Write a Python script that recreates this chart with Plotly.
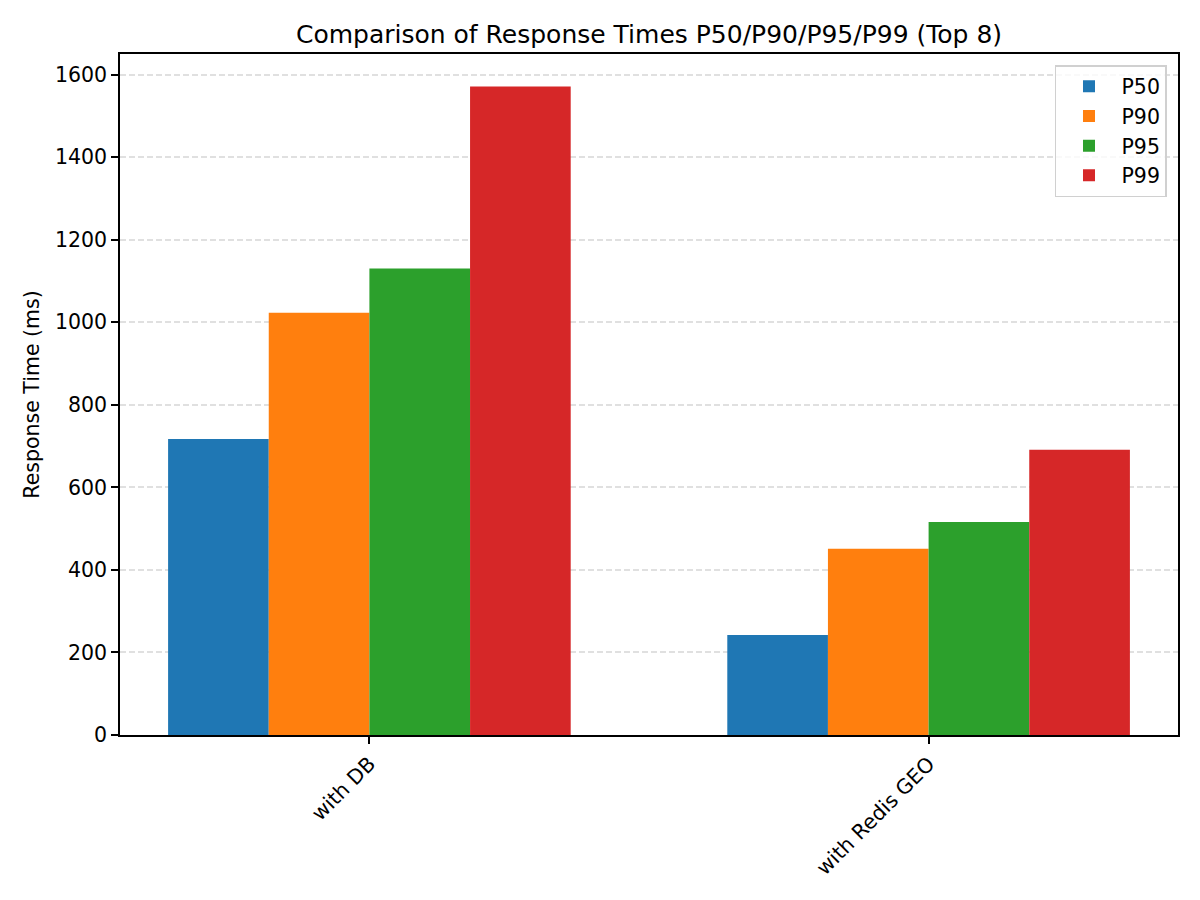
import plotly.graph_objects as go

categories = ["with DB", "with Redis GEO"]
series_names = ["P50", "P90", "P95", "P99"]
p50 = [717, 242]
p90 = [1023, 451]
p95 = [1130, 516]
p99 = [1571, 691]
colors = ["#1f77b4", "#ff7f0e", "#2ca02c", "#d62728"]

values = [p50, p90, p95, p99]

fig = go.Figure()
for name, vals, col in zip(series_names, values, colors):
    fig.add_trace(go.Bar(x=categories, y=vals, name=name, marker_color=col,
                         marker_line_width=0))

font_family = "DejaVu Sans"
W, H = 1184, 884
L, R, T, B = 112, 14, 46, 157
fig.update_layout(
    width=W, height=H,
    paper_bgcolor="white", plot_bgcolor="white",
    barmode="group", bargap=0.28, bargroupgap=0,
    margin=dict(l=L, r=R, t=T, b=B),
    font=dict(family=font_family, size=20.5, color="black"),
    title=dict(text="Comparison of Response Times P50/P90/P95/P99 (Top 8)",
               x=0.5, xref="paper", xanchor="center", y=1 - 26/H, yref="container",
               yanchor="middle",
               font=dict(size=25, family=font_family, color="black")),
    legend=dict(x=0.9896, y=0.9838, xanchor="right", yanchor="top",
                bgcolor="rgba(255,255,255,0.8)", bordercolor="#d0d0d0", borderwidth=1.5,
                font=dict(size=20.5, family=font_family), tracegroupgap=0,
                itemwidth=55),
    xaxis=dict(range=[-0.446, 1.446], tickangle=-45, showline=True, linecolor="black",
               linewidth=1.5, mirror=True, ticks="outside", ticklen=7, tickwidth=1.5,
               tickcolor="black", showgrid=False, tickfont=dict(size=20.5)),
    yaxis=dict(range=[0, 1650], dtick=200, showline=True, linecolor="black",
               linewidth=1.5, mirror=True, ticks="outside", ticklen=7, tickwidth=1.5,
               tickcolor="black",
               showgrid=True, gridcolor="#e0e0e0", griddash="6px,3px",
               gridwidth=1.6, zeroline=False,
               title=dict(text="Response Time (ms)", font=dict(size=20.5), standoff=10),
               tickfont=dict(size=20.5)),
)

fig.write_html("out.html")
